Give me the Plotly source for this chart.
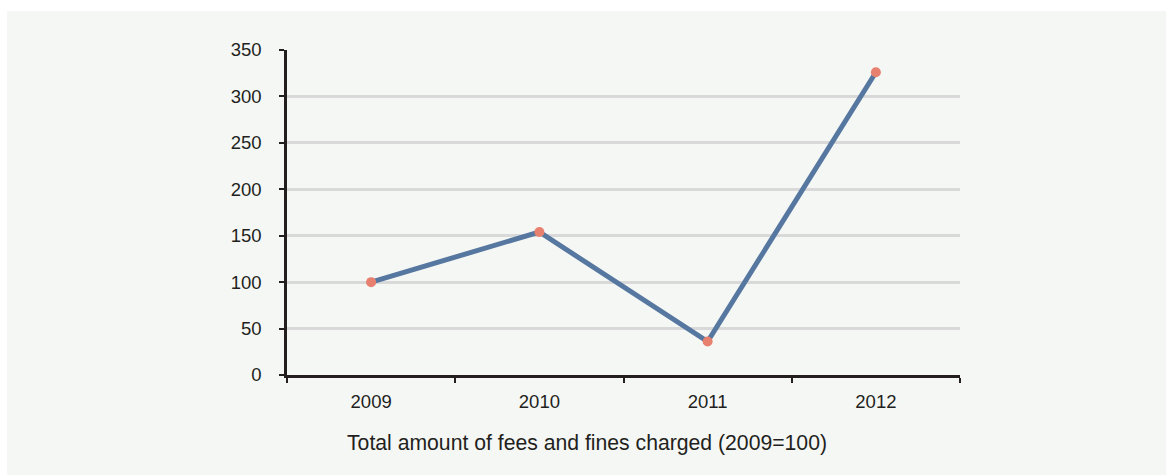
import plotly.graph_objects as go

# Index of total fees and fines charged, 2009 = 100
years = ["2009", "2010", "2011", "2012"]
index_values = [100, 154, 36, 326]
y_ticks = [0, 50, 100, 150, 200, 250, 300, 350]

W, H = 1166, 475
L, R, T, B = 287, 206, 50, 100
BG = "#f5f7f5"
INK = "#231f20"
FONT = "Liberation Sans, Arial, sans-serif"

fig = go.Figure()
fig.add_trace(go.Scatter(
    x=years, y=index_values,
    mode="lines+markers",
    line=dict(color="#56779f", width=5),
    marker=dict(color="#e8806f", size=10, line=dict(width=0)),
    cliponaxis=False,
    hoverinfo="x+y",
))

# light panel behind the chart, leaving a thin white strip top and left
fig.add_shape(type="rect", xref="paper", yref="paper",
              x0=(7 - L) / (W - L - R), x1=(W - L) / (W - L - R),
              y0=-B / (H - T - B), y1=(H - 11 - B) / (H - T - B),
              fillcolor=BG, line=dict(width=0), layer="below")

fig.add_annotation(
    text="Total amount of fees and fines charged (2009=100)",
    xref="paper", yref="paper",
    x=(587 - L) / (W - L - R), y=-(443 - (H - B)) / (H - T - B),
    xanchor="center", yanchor="middle", showarrow=False,
    font=dict(size=21.2, color=INK, family=FONT),
)

fig.update_layout(
    width=W, height=H,
    margin=dict(l=L, r=R, t=T, b=B, pad=0),
    paper_bgcolor="white",
    plot_bgcolor=BG,
    showlegend=False,
    font=dict(family=FONT, size=18.5, color=INK),
    xaxis=dict(
        type="category", range=[-0.5, 3.5],
        showline=True, linecolor=INK, linewidth=2.5,
        ticks="outside", tickson="boundaries", ticklen=5, tickwidth=2, tickcolor=INK,
        showgrid=False, zeroline=False,
        tickfont=dict(size=18.5), ticklabelstandoff=8,
    ),
    yaxis=dict(
        range=[0, 350], tickvals=y_ticks,
        showline=True, linecolor=INK, linewidth=2.5,
        ticks="outside", ticklen=5, tickwidth=2, tickcolor=INK,
        showgrid=True, gridcolor="#d9d9d9", gridwidth=2.5,
        zeroline=False, tickfont=dict(size=18.5), ticklabelstandoff=14,
    ),
)

fig.write_html("out.html")
